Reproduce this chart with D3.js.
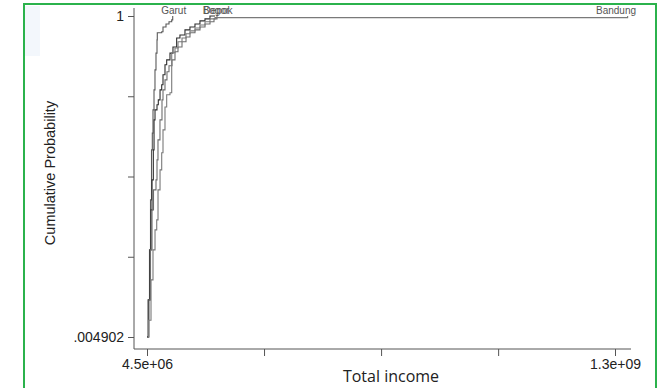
<!DOCTYPE html>
<html><head><meta charset="utf-8">
<script src="https://cdn.jsdelivr.net/npm/d3@7"></script>
<style>body{margin:0;background:#fff}svg{display:block}</style>
</head><body>
<script>
// income in millions, cumulative probability
const garutIncome = [4.5,7.3,11.4,14.2,17,19.2,21.1,23.9,26.6,29.4,32.2,33,45.2,48.8,57.1,65.4,72.9,75.7];
const garutProb   = [0.0049,0.12,0.275,0.43,0.585,0.637,0.709,0.771,0.833,0.885,0.926,0.948,0.951,0.966,0.975,0.982,0.988,1];
const bogorIncome = [4.5,8.7,12.8,15.6,18.4,22,24,26.7,32.2,35.8,40.6,45.2,48.8,54.3,59,68.1,76.4,86.6,95.7,109.6,123.4,137.3,151.1,165,178.8,192.7];
const bogorProb   = [0.0049,0.12,0.275,0.399,0.492,0.585,0.678,0.709,0.725,0.74,0.771,0.787,0.818,0.849,0.864,0.885,0.904,0.932,0.941,0.957,0.966,0.975,0.985,0.991,1,1];
const depokIncome = [7.3,10,14.2,18.4,22.5,29.4,32.2,34.9,40.4,46,48.8,54.3,59.8,65.4,73.7,82,90.3,101.4,112.5,123.5,137.4,151.2,165.1,178.9,190,198.3];
const depokProb   = [0.0049,0.12,0.275,0.399,0.461,0.492,0.554,0.616,0.678,0.74,0.771,0.802,0.827,0.846,0.864,0.889,0.904,0.92,0.935,0.948,0.957,0.966,0.975,0.982,0.991,1];
const bandungIncome = [7.3,8.7,15.6,21.1,26.7,31.4,35,40.6,45.2,48.8,54.3,59,68.1,72.9,82,90.3,101.4,112.5,123.5,137.4,151.2,165.1,178.8,192.7,203.8,1335];
const bandungProb   = [0.0049,0.057,0.182,0.275,0.337,0.368,0.461,0.523,0.576,0.647,0.718,0.756,0.762,0.886,0.901,0.92,0.932,0.945,0.954,0.963,0.972,0.982,0.991,0.995,0.995,1];
const seriesNames = ["Garut","Bogor","Depok","Bandung"];
const xTickValues = [4.5e6, 3.285e8, 6.525e8, 9.765e8, 1.3e9];
const xTickLabels = ["4.5e+06","","","","1.3e+09"];
const yTickValues = [0.004902, 0.253676, 0.502451, 0.751225, 1];
const yTickLabels = [".004902","","","","1"];

const series = [
  {name: seriesNames[0], inc: garutIncome, p: garutProb, color: "#5a5a5a"},
  {name: seriesNames[1], inc: bogorIncome, p: bogorProb, color: "#2e2e2e"},
  {name: seriesNames[2], inc: depokIncome, p: depokProb, color: "#6e6e6e"},
  {name: seriesNames[3], inc: bandungIncome, p: bandungProb, color: "#7a7a7a"}
];

const W = 662, H = 388;
const svg = d3.select("body").append("svg").attr("width", W).attr("height", H);

svg.append("rect").attr("x",24).attr("y",6).attr("width",16).attr("height",50).attr("fill","#f3f7fc");

const x = d3.scaleLinear().domain([4.5e6, 1.3e9]).range([147, 615]);
const y = d3.scaleLinear().domain([0.004902, 1]).range([337, 16]);

const font = "'Liberation Sans', Arial, sans-serif";

// axes
const xAxis = svg.append("g").attr("transform","translate(0,349)")
  .call(d3.axisBottom(x).tickValues(xTickValues).tickSize(7).tickPadding(3)
    .tickFormat((d,i)=>xTickLabels[i]));
xAxis.select(".domain").attr("d","M134,0H631");
const yAxis = svg.append("g").attr("transform","translate(134,0)")
  .call(d3.axisLeft(y).tickValues(yTickValues).tickSize(6).tickPadding(4)
    .tickFormat((d,i)=>yTickLabels[i]));
yAxis.select(".domain").attr("d","M0,8V349");
svg.selectAll(".tick text").attr("font-family",font).attr("font-size",14).attr("fill","#222");
svg.selectAll(".domain, .tick line").attr("stroke","#555").attr("stroke-width",1);

const line = d3.line().curve(d3.curveStepAfter);
series.forEach(s => {
  const pts = s.inc.map((v,i)=>[x(v*1e6), y(s.p[i])]);
  svg.append("path").attr("d", line(pts)).attr("fill","none")
    .attr("stroke", s.color).attr("stroke-width",1.1);
  const last = pts[pts.length-1];
  let lx = last[0] + 1;
  svg.append("text").attr("x", Math.min(lx, 616)).attr("y", 14)
    .attr("text-anchor","middle").attr("font-family",font).attr("font-size",10)
    .attr("fill","#555").text(s.name);
});

svg.append("text").attr("transform","translate(55,173) rotate(-90)")
  .attr("text-anchor","middle").attr("font-family",font).attr("font-size",14.5)
  .attr("fill","#222").text("Cumulative Probability");
svg.append("text").attr("x",391).attr("y",382).attr("text-anchor","middle")
  .attr("font-family","'Open Sans', sans-serif").attr("font-size",16)
  .attr("fill","#222").text("Total income");

svg.append("rect").attr("x",24).attr("y",4).attr("width",632).attr("height",386)
  .attr("fill","none").attr("stroke","#2bb24c").attr("stroke-width",2);
</script>
</body></html>
